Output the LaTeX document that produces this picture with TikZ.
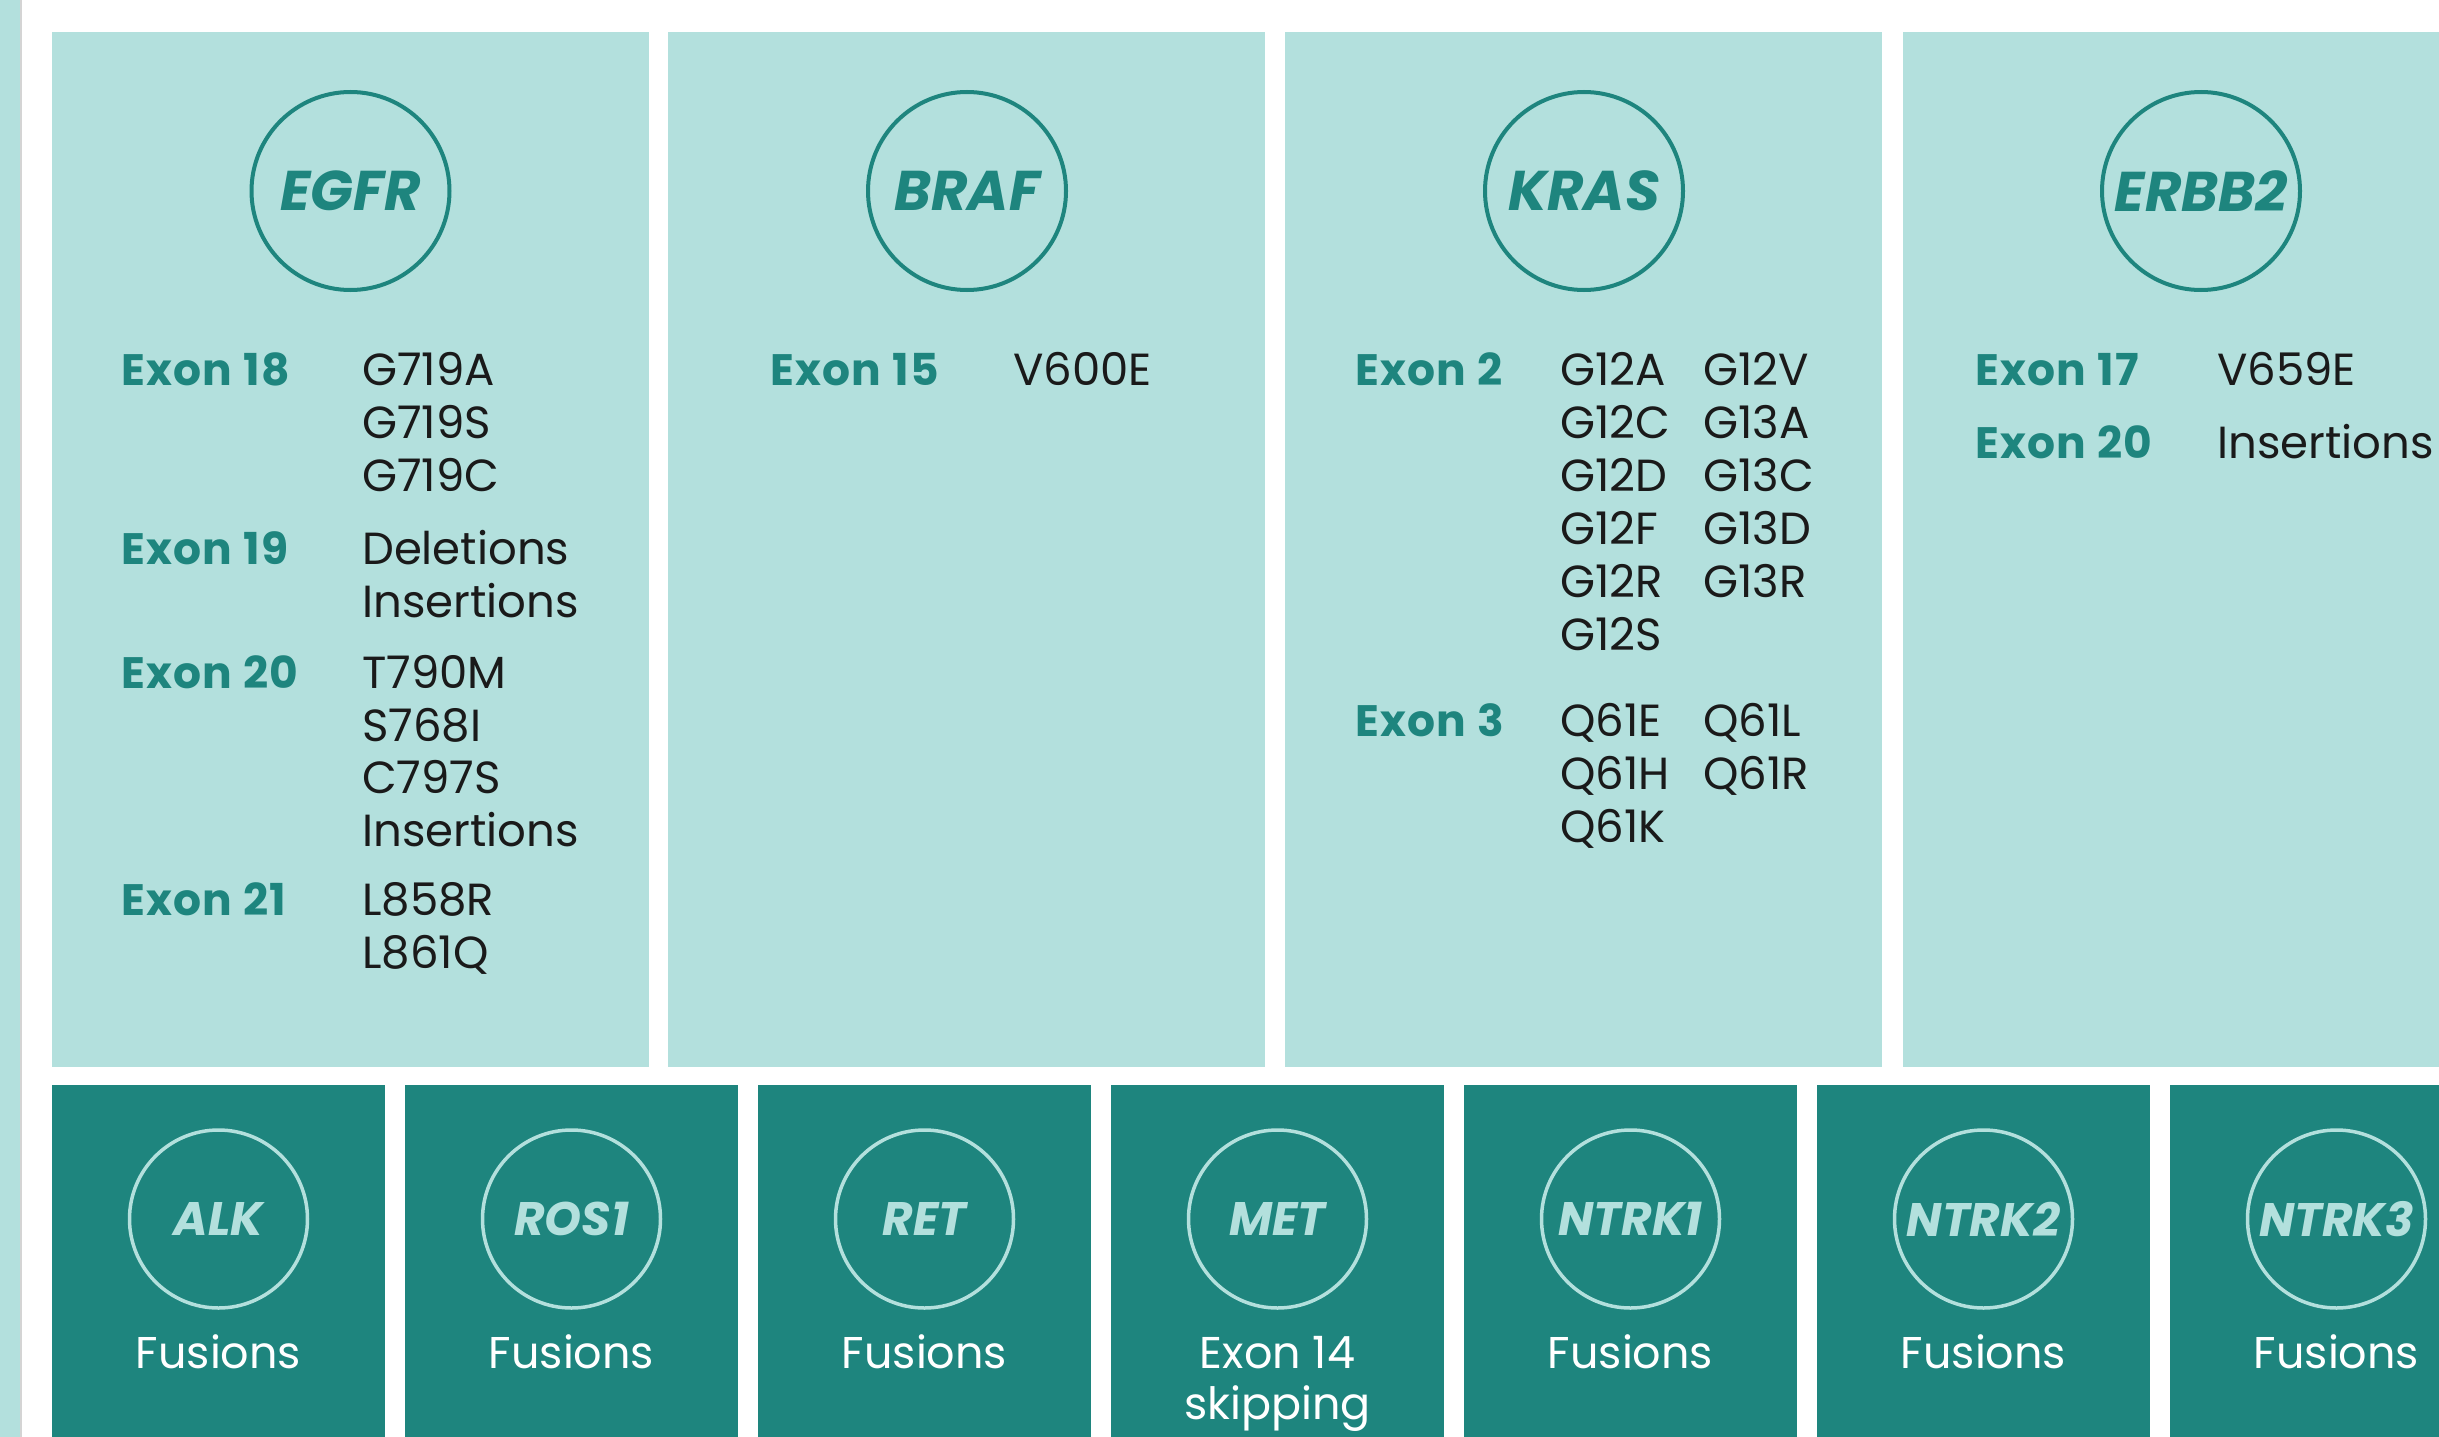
\documentclass[tikz,border=0pt]{standalone}
\usepackage{fontspec}
\setmainfont{Poppins}
\definecolor{lightteal}{HTML}{B3E0DD}
\definecolor{darkteal}{HTML}{1E857E}
\definecolor{inkgray}{HTML}{1A1A1A}
\definecolor{edgegray}{HTML}{D4D4D4}

\tikzset{
  lightpanel/.style={fill=lightteal, draw=none, inner sep=0pt, anchor=north west,
                     minimum width=597pt, minimum height=1035pt},
  darkpanel/.style={fill=darkteal, draw=none, inner sep=0pt, anchor=north west,
                    minimum width=333pt, minimum height=400pt},
  topring/.style={circle, draw=darkteal, line width=4pt, minimum size=198pt, inner sep=0pt,
                  text=darkteal, font=\fontsize{56}{58}\selectfont\bfseries\itshape},
  lowring/.style={circle, draw=lightteal, line width=3.5pt, minimum size=178pt, inner sep=0pt,
                  text=lightteal, font=\fontsize{47}{49}\selectfont\bfseries\itshape},
  exonlabel/.style={anchor=base west, inner sep=0pt, text=darkteal,
                    font=\fontsize{44}{46}\selectfont\bfseries\addfontfeature{LetterSpace=3}},
  mutation/.style={anchor=base west, inner sep=0pt, text=inkgray,
                   font=\fontsize{45}{47}\selectfont},
  kind/.style={anchor=base, inner sep=0pt, text=white,
               font=\fontsize{44.5}{46}\selectfont},
}

\begin{document}
\begin{tikzpicture}[x=1pt, y=-1pt]
\useasboundingbox (0,0) rectangle (2439,1437);
\clip (0,0) rectangle (2439,1437);
\fill[white] (0,0) rectangle (2439,1437);

% strip along the left edge
\fill[lightteal] (0,0) rectangle (20,1437);
\fill[edgegray] (20,0) rectangle (22,1437);

% upper row: point-mutation genes
\node[lightpanel] (pEGFR)  at (52,32)   {};
\node[lightpanel] (pBRAF)  at (668,32)  {};
\node[lightpanel] (pKRAS)  at (1285,32) {};
\node[lightpanel] (pERBB2) at (1903,32) {};

\node[topring] (cEGFR)  at (350.5,191) {EGFR};
\node[topring] (cBRAF)  at (967,191)   {BRAF};
\node[topring] (cKRAS)  at (1584,191)  {KRAS};
\node[topring] (cERBB2) at (2201,191)  {ERBB2};

% EGFR
\node[exonlabel] (eg18) at (121,385) {Exon 18};
\node[mutation] (eg18a) at (362,385) {G719A};
\node[mutation] (eg18b) at (362,438) {G719S};
\node[mutation] (eg18c) at (362,491) {G719C};
\node[exonlabel] (eg19) at (121,564) {Exon 19};
\node[mutation] (eg19a) at (362,564) {Deletions};
\node[mutation] (eg19b) at (362,617) {Insertions};
\node[exonlabel] (eg20) at (121,688) {Exon 20};
\node[mutation] (eg20a) at (362,688) {T790M};
\node[mutation] (eg20b) at (362,741) {S768I};
\node[mutation] (eg20c) at (362,793) {C797S};
\node[mutation] (eg20d) at (362,846) {Insertions};
\node[exonlabel] (eg21) at (121,915) {Exon 21};
\node[mutation] (eg21a) at (362,915) {L858R};
\node[mutation] (eg21b) at (362,968) {L861Q};

% BRAF
\node[exonlabel] (br15) at (770,385) {Exon 15};
\node[mutation] (br15a) at (1013,385) {V600E};

% KRAS
\node[exonlabel] (kr2) at (1355,385) {Exon 2};
\node[mutation] (kr2a) at (1560,385) {G12A};
\node[mutation] (kr2b) at (1560,438) {G12C};
\node[mutation] (kr2c) at (1560,491) {G12D};
\node[mutation] (kr2d) at (1560,544) {G12F};
\node[mutation] (kr2e) at (1560,597) {G12R};
\node[mutation] (kr2f) at (1560,650) {G12S};
\node[mutation] (kr2g) at (1703,385) {G12V};
\node[mutation] (kr2h) at (1703,438) {G13A};
\node[mutation] (kr2i) at (1703,491) {G13C};
\node[mutation] (kr2j) at (1703,544) {G13D};
\node[mutation] (kr2k) at (1703,597) {G13R};
\node[exonlabel] (kr3) at (1355,736) {Exon 3};
\node[mutation] (kr3a) at (1560,736) {Q61E};
\node[mutation] (kr3b) at (1560,789) {Q61H};
\node[mutation] (kr3c) at (1560,842) {Q61K};
\node[mutation] (kr3d) at (1703,736) {Q61L};
\node[mutation] (kr3e) at (1703,789) {Q61R};

% ERBB2
\node[exonlabel] (eb17) at (1975,385) {Exon 17};
\node[mutation] (eb17a) at (2217,385) {V659E};
\node[exonlabel] (eb20) at (1975,458) {Exon 20};
\node[mutation] (eb20a) at (2217,458) {Insertions};

% lower row: rearrangement genes
\foreach \nm/\x in {ALK/52, ROS1/405, RET/758, MET/1111, NTRKa/1464, NTRKb/1817, NTRKc/2170}
  \node[darkpanel] (p\nm) at (\x,1085) {};

\node[lowring] (cALK)   at (218.5,1219)  {ALK};
\node[lowring] (cROS1)  at (571.5,1219)  {ROS1};
\node[lowring] (cRET)   at (924.5,1219)  {RET};
\node[lowring] (cMET)   at (1277.5,1219) {MET};
\node[lowring] (cNTRKa) at (1630.5,1219) {NTRK1};
\node[lowring] (cNTRKb) at (1983.5,1219) {NTRK2};
\node[lowring] (cNTRKc) at (2336.5,1219) {NTRK3};

\node[kind] (kALK)   at (218.5,1368)  {Fusions};
\node[kind] (kROS1)  at (571.5,1368)  {Fusions};
\node[kind] (kRET)   at (924.5,1368)  {Fusions};
\node[kind] (kMETa)  at (1277.5,1368) {Exon 14};
\node[kind] (kMETb)  at (1277.5,1419) {skipping};
\node[kind] (kNTRKa) at (1630.5,1368) {Fusions};
\node[kind] (kNTRKb) at (1983.5,1368) {Fusions};
\node[kind] (kNTRKc) at (2336.5,1368) {Fusions};
\end{tikzpicture}
\end{document}
